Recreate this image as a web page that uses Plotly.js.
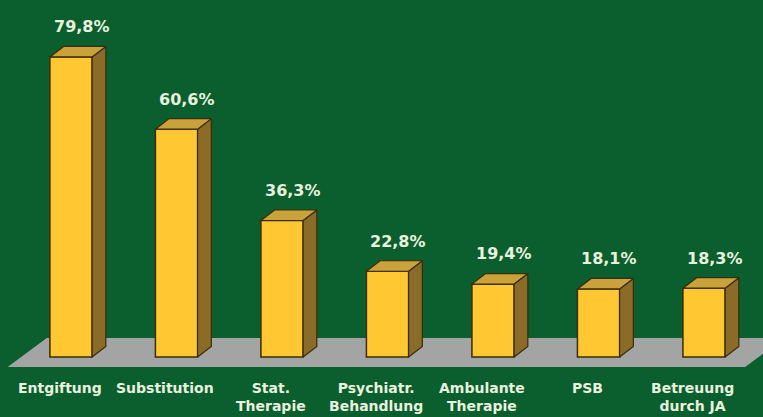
<!DOCTYPE html>
<html>
<head>
<meta charset="utf-8">
<script src="https://cdn.plot.ly/plotly-3.0.1.min.js"></script>
<style>
html,body{margin:0;padding:0;background:#0b5e2e;}
#chart{width:763px;height:417px;}
</style>
</head>
<body>
<div id="chart"></div>
<script>
// Data
const categories = ["Entgiftung", "Substitution", "Stat.<br>Therapie", "Psychiatr.<br>Behandlung", "Ambulante<br>Therapie", "PSB", "Betreuung<br>durch JA"];
const values = [79.8, 60.6, 36.3, 22.8, 19.4, 18.1, 18.3];
const valueLabels = ["79,8%", "60,6%", "36,3%", "22,8%", "19,4%", "18,1%", "18,3%"];

// Styling / geometry
const BG = "#0b5e2e";
const FRONT = "#ffc832";
const SIDE = "#8b6b28";
const TOP = "#c9a23c";
const EDGE = "#3a2c05";
const FLOOR = "#a3a5a5";
const TXT = "#e8f2de";
const FONT = "DejaVu Sans, Verdana, sans-serif";
const W = 0.40;      // bar width (category units)
const DX = 0.13;     // depth offset x (category units)
const DY = 2.8;      // depth offset y (value units)

const n = values.length;
const xs = values.map((v, i) => i);
const traces = [];

// side faces and top faces
values.forEach((v, i) => {
  const r = i + W / 2, l = i - W / 2;
  traces.push({
    type: "scatter", mode: "lines", fill: "toself", fillcolor: SIDE,
    line: {color: EDGE, width: 1.2}, hoverinfo: "skip", showlegend: false,
    x: [r, r + DX, r + DX, r, r],
    y: [0, DY, v + DY, v, 0]
  });
  traces.push({
    type: "scatter", mode: "lines", fill: "toself", fillcolor: TOP,
    line: {color: EDGE, width: 1.2}, hoverinfo: "skip", showlegend: false,
    x: [l, r, r + DX, l + DX, l],
    y: [v, v, v + DY, v + DY, v]
  });
});

// front faces
traces.push({
  type: "bar", x: xs, y: values, width: W,
  marker: {color: FRONT, line: {color: EDGE, width: 1.5}},
  hoverinfo: "skip", showlegend: false
});

const annotations = [];
values.forEach((v, i) => {
  annotations.push({
    x: i + 0.1, y: v + 8.0, xref: "x", yref: "y",
    text: "<b>" + valueLabels[i] + "</b>", showarrow: false,
    font: {family: FONT, size: 16, color: TXT},
    xanchor: "center", yanchor: "middle"
  });
  annotations.push({
    x: i - 0.105, y: -5.6, xref: "x", yref: "y",
    text: "<b>" + categories[i] + "</b>", showarrow: false,
    font: {family: FONT, size: 14, color: TXT},
    xanchor: "center", yanchor: "top", align: "center"
  });
});

// floor (drawn beneath the bars)
const x0 = -0.60, x1 = n - 1 + 0.39, dxf = 0.37, yf = -2.66, yb = 5.05;
const floorPath = "M" + x0 + "," + yf + " L" + (x0 + dxf) + "," + yb +
  " L" + (x1 + dxf) + "," + yb + " L" + x1 + "," + yf + " Z";

const layout = {
  width: 763, height: 417,
  margin: {l: 0, r: 0, t: 0, b: 0, pad: 0},
  paper_bgcolor: BG, plot_bgcolor: BG,
  xaxis: {range: [-0.673, 6.559], visible: false, fixedrange: true},
  yaxis: {range: [-15.96, 94.95], visible: false, fixedrange: true},
  shapes: [{type: "path", xref: "x", yref: "y", path: floorPath,
            fillcolor: FLOOR, line: {width: 0}, layer: "below"}],
  annotations: annotations,
  showlegend: false
};

Plotly.newPlot("chart", traces, layout, {displayModeBar: false, staticPlot: true});
</script>
</body>
</html>
